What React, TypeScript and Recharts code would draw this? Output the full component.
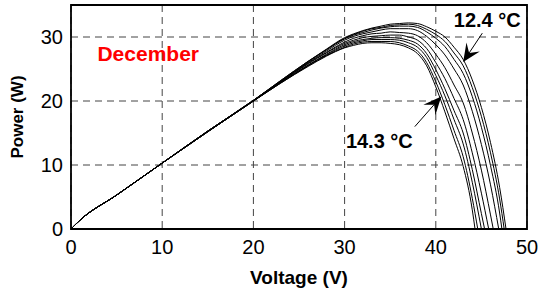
import { LineChart, Line, XAxis, YAxis, CartesianGrid, ReferenceArea, ReferenceLine, ReferenceDot } from "recharts";

// voltage (V) sample points shared by all curves
const voltageGrid = [0, 1, 5, 10, 15, 20, 23, 26, 28, 30, 31, 32, 33, 34, 35, 36, 37, 38, 39, 40, 41, 42, 43, 44, 45, 46, 47];

// open-circuit voltage for each curve (P = 0)
const openCircuitVoltage = [44.3, 44.6, 45.0, 45.35, 45.8, 46.3, 46.9, 47.25, 47.5, 47.7];

// power (W) read at voltageGrid, one list per curve (14.3 °C ... 12.4 °C)
const power1 = [0, 1.4, 5.3, 10.3, 15.2, 20.0, 22.8, 25.4, 27.0, 28.3, 28.7, 29.0, 29.1, 29.1, 29.0, 28.8, 28.3, 27.4, 25.5, 22.2, 18.3, 14.1, 9.8, 3.0];
const power2 = [0, 1.4, 5.3, 10.3, 15.2, 20.0, 22.8, 25.5, 27.1, 28.4, 28.9, 29.2, 29.3, 29.3, 29.3, 29.1, 28.6, 27.8, 26.0, 23.0, 19.4, 15.4, 11.3, 4.8];
const power3 = [0, 1.4, 5.3, 10.3, 15.2, 20.0, 22.9, 25.6, 27.2, 28.6, 29.1, 29.4, 29.6, 29.6, 29.6, 29.5, 29.1, 28.4, 26.8, 24.0, 20.8, 17.1, 13.3, 7.3];
const power4 = [0, 1.4, 5.3, 10.3, 15.2, 20.0, 22.9, 25.6, 27.3, 28.8, 29.3, 29.6, 29.8, 29.9, 29.9, 29.8, 29.5, 28.9, 27.4, 24.9, 21.9, 18.5, 15.0, 9.3, 2.4];
const power5 = [0, 1.4, 5.3, 10.3, 15.2, 20.0, 23.0, 25.8, 27.5, 29.0, 29.5, 29.9, 30.1, 30.2, 30.3, 30.3, 30.0, 29.5, 28.2, 26.0, 23.5, 20.4, 17.1, 11.9, 5.6];
const power6 = [0, 1.4, 5.3, 10.3, 15.3, 20.0, 23.0, 25.9, 27.6, 29.2, 29.8, 30.2, 30.5, 30.6, 30.8, 30.7, 30.6, 30.2, 29.1, 27.3, 25.2, 22.5, 19.7, 15.0, 9.2, 2.2];
const power7 = [0, 1.4, 5.3, 10.3, 15.3, 20.1, 23.1, 26.0, 27.8, 29.5, 30.1, 30.5, 30.8, 31.1, 31.3, 31.3, 31.3, 31.0, 30.1, 28.8, 27.2, 25.0, 22.5, 18.4, 13.2, 6.9];
const power8 = [0, 1.4, 5.3, 10.3, 15.3, 20.1, 23.1, 26.1, 28.0, 29.7, 30.3, 30.7, 31.1, 31.4, 31.6, 31.7, 31.7, 31.5, 30.8, 29.8, 28.5, 26.5, 24.3, 20.7, 15.9, 9.9, 2.5];
const power9 = [0, 1.4, 5.3, 10.3, 15.3, 20.1, 23.2, 26.2, 28.0, 29.8, 30.4, 30.9, 31.3, 31.5, 31.8, 31.9, 32.0, 31.8, 31.2, 30.4, 29.3, 27.5, 25.5, 22.1, 17.6, 11.9, 4.7];
const power10 = [0, 1.4, 5.3, 10.3, 15.3, 20.1, 23.2, 26.2, 28.1, 29.9, 30.5, 31.0, 31.4, 31.7, 32.0, 32.1, 32.2, 32.1, 31.6, 30.9, 30.0, 28.4, 26.5, 23.3, 19.0, 13.5, 6.5];

const powerCurves = [power1, power2, power3, power4, power5, power6, power7, power8, power9, power10];

const xTicks = [0, 10, 20, 30, 40, 50];
const yTicks = [0, 10, 20, 30];

const series = powerCurves.map((ps, i) => [
  ...ps.map((p, j) => ({ v: voltageGrid[j], p })),
  { v: openCircuitVoltage[i], p: 0 },
]);

const FONT = "'Liberation Sans', Arial, sans-serif";

function Arrow(props: any) {
  const { x1, y1, x2, y2 } = props;
  const dx = x2 - x1;
  const dy = y2 - y1;
  const len = Math.sqrt(dx * dx + dy * dy);
  const ux = dx / len;
  const uy = dy / len;
  const head = 18;
  const bx = x2 - ux * head;
  const by = y2 - uy * head;
  const nx = -uy * 8;
  const ny = ux * 8;
  const mx = x2 - ux * head * 0.6;
  const my = y2 - uy * head * 0.6;
  return (
    <g>
      <line x1={x1} y1={y1} x2={mx} y2={my} stroke="#000" strokeWidth={1} />
      <polygon
        points={`${x2},${y2} ${bx + nx},${by + ny} ${mx},${my} ${bx - nx},${by - ny}`}
        fill="#000"
      />
    </g>
  );
}

function note(text: string, color: string, size: number) {
  return (p: any) => (
    <text x={p.cx} y={p.cy} fill={color} fontSize={size} fontWeight="bold" fontFamily={FONT}>
      {text}
    </text>
  );
}

export default function App() {
  return (
    <div style={{ position: "absolute", left: 0, top: 0, width: 539, height: 288, background: "#fff" }}>
      <LineChart width={539} height={288} margin={{ top: 5, right: 12, left: 11, bottom: 29 }}>
        <CartesianGrid stroke="#444" strokeDasharray="7 5" />
        <XAxis
          dataKey="v"
          type="number"
          domain={[0, 50]}
          ticks={xTicks}
          axisLine={false}
          tickLine={false}
          tickMargin={5}
          height={30}
          tick={{ fill: "#000", fontSize: 20, fontFamily: FONT }}
          label={{
            value: "Voltage (V)",
            position: "insideBottom",
            offset: -25,
            fill: "#000",
            fontSize: 19,
            fontWeight: "bold",
            fontFamily: FONT,
          }}
        />
        <YAxis
          type="number"
          domain={[0, 35]}
          ticks={yTicks}
          axisLine={false}
          tickLine={false}
          width={60}
          tick={{ fill: "#000", fontSize: 20, fontFamily: FONT }}
          label={{
            value: "Power (W)",
            angle: -90,
            position: "insideLeft",
            offset: 6,
            fill: "#000",
            fontSize: 17,
            fontWeight: "bold",
            fontFamily: FONT,
            style: { textAnchor: "middle" },
          }}
        />
        <ReferenceArea x1={0} x2={50} y1={0} y2={35} fill="none" stroke="#000" strokeWidth={1.8} />
        {series.map((d, i) => (
          <Line
            key={i}
            data={d}
            dataKey="p"
            type="monotone"
            stroke="#000"
            strokeWidth={1}
            dot={false}
            isAnimationActive={false}
          />
        ))}
        <ReferenceLine segment={[{ x: 45.1, y: 30.6 }, { x: 43.0, y: 26.1 }]} shape={Arrow} />
        <ReferenceLine segment={[{ x: 37.7, y: 16.0 }, { x: 40.6, y: 20.7 }]} shape={Arrow} />
        <ReferenceDot x={2.9} y={26.25} r={0} shape={note("December", "#ff0000", 21)} />
        <ReferenceDot x={41.97} y={31.5} r={0} shape={note("12.4 °C", "#000", 20)} />
        <ReferenceDot x={30.14} y={12.6} r={0} shape={note("14.3 °C", "#000", 20)} />
      </LineChart>
    </div>
  );
}
